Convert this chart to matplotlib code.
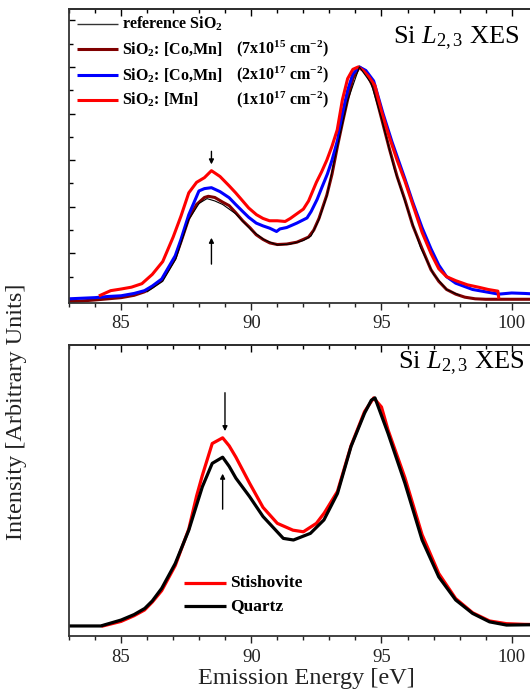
#!/usr/bin/python
# -*- coding: utf-8 -*-
"""
Si L2,3 XES spectra: implanted SiO2 layers (top) and stishovite vs quartz (bottom)
"""

#######################################################
# Environment setting
#######################################################
import numpy as np
import matplotlib
matplotlib.use('Agg')
import matplotlib.pyplot as plt
from matplotlib.ticker import MultipleLocator

plt.rcParams['font.family'] = ['Liberation Serif', 'DejaVu Serif']
plt.rcParams['mathtext.fontset'] = 'custom'
plt.rcParams['mathtext.rm'] = 'Liberation Serif'
plt.rcParams['mathtext.it'] = 'Liberation Serif:italic'
plt.rcParams['mathtext.bf'] = 'Liberation Serif:bold'


#######################################################
# Data (emission energy in eV, intensity normalised)
#######################################################

# top panel: SiO2 implanted with [Mn] (1x10^17)
e_mn = [84.2, 84.6, 85.0, 85.4, 85.8, 86.2, 86.6, 87.0, 87.3, 87.6, 87.9,
        88.2, 88.47, 88.8, 89.15, 89.4, 89.67, 89.9, 90.2, 90.45, 90.7, 91.0,
        91.3, 91.5, 91.75, 92.0, 92.2, 92.5, 92.7, 92.9, 93.1, 93.3, 93.5,
        93.7, 93.9, 94.1, 94.3, 94.5, 94.75, 95.0, 95.3, 95.6, 95.9, 96.2,
        96.56, 96.9, 97.2, 97.5, 97.85, 98.3, 98.76, 99.1, 99.47, 99.5]
i_mn = [0.02, 0.04, 0.047, 0.055, 0.07, 0.11, 0.165, 0.27, 0.36, 0.46, 0.505,
        0.525, 0.555, 0.53, 0.49, 0.46, 0.425, 0.395, 0.366, 0.35, 0.34, 0.34,
        0.337, 0.35, 0.37, 0.39, 0.425, 0.505, 0.55, 0.6, 0.66, 0.73, 0.86,
        0.95, 0.99, 1.0, 0.985, 0.96, 0.92, 0.81, 0.7, 0.6, 0.51, 0.41,
        0.29, 0.2, 0.134, 0.1, 0.083, 0.065, 0.054, 0.045, 0.038, 0.012]

# top panel: SiO2 implanted with [Co,Mn] (2x10^17)
e_comn_hi = [83.0, 84.0, 84.5, 85.0, 85.5, 85.9, 86.2, 86.56, 87.08, 87.3, 87.6,
             87.99, 88.2, 88.47, 88.8, 89.15, 89.4, 89.67, 89.9, 90.19, 90.45,
             90.71, 90.97, 91.1, 91.36, 91.75, 92.14, 92.3, 92.53, 92.7, 92.92,
             93.1, 93.31, 93.5, 93.7, 93.9, 94.15, 94.4, 94.7, 95.06, 95.4,
             95.9, 96.2, 96.56, 96.9, 97.2, 97.5, 97.85, 98.5, 99.0, 99.5,
             100.0, 100.5, 101.0, 101.25]
i_comn_hi = [0.005, 0.01, 0.015, 0.018, 0.028, 0.04, 0.06, 0.09, 0.19, 0.26,
             0.366, 0.468, 0.478, 0.482, 0.465, 0.439, 0.41, 0.38, 0.355, 0.33,
             0.318, 0.308, 0.294, 0.305, 0.311, 0.33, 0.352, 0.38, 0.432, 0.48,
             0.54, 0.6, 0.685, 0.8, 0.9, 0.97, 1.0, 0.985, 0.94, 0.8, 0.68,
             0.52, 0.42, 0.31, 0.22, 0.15, 0.1, 0.072, 0.045, 0.035, 0.025,
             0.03, 0.028, 0.025, 0.025]

# top panel: SiO2 implanted with [Co,Mn] (7x10^15)
e_comn_lo = [83.0, 84.0, 85.0, 85.5, 85.9, 86.2, 86.56, 87.08, 87.3, 87.6, 87.9,
             88.2, 88.35, 88.6, 88.9, 89.15, 89.4, 89.67, 89.95, 90.19, 90.45,
             90.71, 91.0, 91.36, 91.75, 92.0, 92.2, 92.4, 92.6, 92.9, 93.1,
             93.31, 93.5, 93.7, 93.9, 94.15, 94.4, 94.7, 95.0, 95.3, 95.6,
             95.9, 96.2, 96.56, 96.9, 97.2, 97.5, 97.85, 98.2, 98.6, 99.0,
             100.0, 101.25]
i_comn_lo = [-0.008, 0.0, 0.01, 0.02, 0.035, 0.055, 0.085, 0.18, 0.25, 0.35,
             0.41, 0.44, 0.445, 0.44, 0.42, 0.405, 0.375, 0.34, 0.31, 0.28,
             0.26, 0.245, 0.238, 0.24, 0.248, 0.26, 0.27, 0.3, 0.35, 0.45,
             0.54, 0.66, 0.76, 0.86, 0.95, 1.0, 0.98, 0.91, 0.78, 0.65, 0.53,
             0.43, 0.32, 0.22, 0.13, 0.08, 0.045, 0.025, 0.012, 0.005, 0.003,
             0.003, 0.003]

# top panel: reference SiO2 (thin line, mostly hidden)
e_ref = [86.0, 86.6, 87.1, 87.6, 88.0, 88.3, 88.6, 88.9, 89.4, 90.0, 90.5,
         91.0, 91.5, 92.0, 92.3, 92.6, 92.9, 93.3, 93.7, 94.15, 94.6, 95.0,
         95.5, 96.0, 96.5, 97.0, 97.5, 98.0]
i_ref = [0.035, 0.08, 0.175, 0.345, 0.415, 0.435, 0.425, 0.41, 0.37, 0.3,
         0.258, 0.236, 0.24, 0.255, 0.275, 0.345, 0.445, 0.655, 0.855, 1.0,
         0.93, 0.78, 0.56, 0.39, 0.225, 0.11, 0.045, 0.02]

# bottom panel: Stishovite
e_stish = [84.3, 85.0, 85.5, 85.9, 86.2, 86.56, 87.08, 87.6, 87.9, 88.12, 88.5,
           88.9, 89.15, 89.41, 89.93, 90.45, 91.0, 91.6, 92.0, 92.5, 92.8,
           93.31, 93.83, 94.35, 94.7, 95.0, 95.25, 95.9, 96.56, 97.2, 97.85,
           98.5, 99.15, 99.8, 100.5, 101.25]
i_stish = [0.0, 0.02, 0.045, 0.07, 0.105, 0.155, 0.265, 0.425, 0.57, 0.66, 0.80,
           0.825, 0.79, 0.74, 0.627, 0.52, 0.45, 0.42, 0.413, 0.45, 0.495,
           0.59, 0.79, 0.94, 1.0, 0.96, 0.86, 0.65, 0.40, 0.23, 0.12,
           0.058, 0.022, 0.01, 0.007, 0.006]

# bottom panel: Quartz
e_quartz = [83.0, 84.22, 85.0, 85.5, 85.91, 86.2, 86.56, 87.08, 87.6, 87.9,
            88.12, 88.5, 88.9, 89.15, 89.41, 89.93, 90.45, 91.23, 91.62, 92.27,
            92.79, 93.31, 93.83, 94.35, 94.61, 94.75, 95.25, 95.9, 96.56, 97.2,
            97.85, 98.5, 99.15, 99.8, 101.25]
i_quartz = [0.0, 0.0, 0.026, 0.05, 0.077, 0.11, 0.165, 0.274, 0.42, 0.53,
            0.61, 0.713, 0.74, 0.7, 0.648, 0.568, 0.48, 0.384, 0.377, 0.406,
            0.465, 0.581, 0.787, 0.933, 0.99, 1.0, 0.845, 0.626, 0.377, 0.215,
            0.114, 0.055, 0.018, 0.004, 0.006]

legend_top = ['reference SiO$_\\mathbf{2}$',
              'SiO$_\\mathbf{2}$: [Co,Mn]',
              'SiO$_\\mathbf{2}$: [Co,Mn]',
              'SiO$_\\mathbf{2}$: [Mn]']
dose_top = ['', '(7x10$^\\mathbf{15}$ cm$^\\mathbf{-2}$)',
            '(2x10$^\\mathbf{17}$ cm$^\\mathbf{-2}$)',
            '(1x10$^\\mathbf{17}$ cm$^\\mathbf{-2}$)']
legend_bottom = ['Stishovite', 'Quartz']

xticks = [85, 90, 95, 100]
panel_title = 'Si $\\mathit{L}_{2,3}$ XES'


#######################################################
# Figure
#######################################################
W, H = 530.0, 698.0
fig = plt.figure(figsize=(W / 100.0, H / 100.0), dpi=100)

px_per_ev = 26.04
x_lo, x_hi = 83.0, 101.25
ax_px = (x_hi - x_lo) * px_per_ev
ax_w = ax_px / W
left = 69 / W

ax1 = fig.add_axes([left, 1 - 303 / H, ax_w, 294 / H])
ax2 = fig.add_axes([left, 1 - 636 / H, ax_w, 291 / H])


def style_axis(ax, yticks_on):
    ax.set_xlim(x_lo, x_hi)
    ax.xaxis.set_major_locator(MultipleLocator(5))
    ax.xaxis.set_minor_locator(MultipleLocator(1))
    ax.set_xticks(xticks)
    ax.set_xticklabels([str(t) for t in xticks], fontsize=13.5)
    ax.tick_params(axis='x', which='both', direction='out', top=False,
                   pad=4, colors='#222222')
    ax.tick_params(axis='x', which='major', length=5, width=1)
    ax.tick_params(axis='x', which='minor', length=3, width=1)
    # ticks on the top spine point inwards
    sec = ax.secondary_xaxis('top')
    sec.xaxis.set_major_locator(MultipleLocator(5))
    sec.xaxis.set_minor_locator(MultipleLocator(1))
    sec.tick_params(axis='x', which='both', direction='in', labeltop=False)
    sec.tick_params(axis='x', which='major', length=5, width=1)
    sec.tick_params(axis='x', which='minor', length=3, width=1)
    if yticks_on:
        ax.yaxis.set_major_locator(MultipleLocator(0.2))
        ax.yaxis.set_minor_locator(MultipleLocator(0.1))
        ax.tick_params(axis='y', which='both', direction='in', labelleft=False)
        ax.tick_params(axis='y', which='major', length=4, width=1)
        ax.tick_params(axis='y', which='minor', length=3, width=1)
    else:
        ax.set_yticks([])
    for s in ax.spines.values():
        s.set_linewidth(1.3)
        s.set_color('#333333')
    sec.spines['top'].set_linewidth(1.3)


def axfrac(px):
    # horizontal pixel position -> axes fraction
    return (px - 69) / ax_px


#######################################################
# Top panel
#######################################################
ax1.plot(e_comn_lo, i_comn_lo, color='#800000', lw=2.2)
ax1.plot(e_comn_hi, i_comn_hi, color='#0000ff', lw=2.2)
ax1.plot(e_mn, i_mn, color='#ff0000', lw=2.2)
ax1.plot(e_ref, i_ref, color='black', lw=0.8)
ax1.set_ylim(-0.013, 1.249)
style_axis(ax1, True)

top_colors = ['#333333', '#800000', '#0000ff', '#ff0000']
top_widths = [1.0, 2.2, 2.2, 2.2]
leg_y = [0.949, 0.864, 0.776, 0.690]
for k in range(len(legend_top)):
    ax1.plot([axfrac(77), axfrac(118)], [leg_y[k], leg_y[k]],
             transform=ax1.transAxes,
             color=top_colors[k], lw=top_widths[k], solid_capstyle='butt')
    ax1.text(axfrac(122), leg_y[k], legend_top[k], transform=ax1.transAxes,
             fontsize=11.5, fontweight='bold', va='center', ha='left')
    if dose_top[k]:
        ax1.text(axfrac(236), leg_y[k], dose_top[k], transform=ax1.transAxes,
                 fontsize=11.5, fontweight='bold', va='center', ha='left')

ax1.text(axfrac(393), 0.884, panel_title, transform=ax1.transAxes,
         fontsize=19, va='baseline', ha='left')

# arrows marking the first peak
ax1.annotate('', xy=(88.47, 0.57), xytext=(88.47, 0.65),
             arrowprops=dict(arrowstyle='-|>', color='black', lw=1,
                             mutation_scale=7))
ax1.annotate('', xy=(88.47, 0.279), xytext=(88.47, 0.142),
             arrowprops=dict(arrowstyle='-|>', color='black', lw=1,
                             mutation_scale=7))


#######################################################
# Bottom panel
#######################################################
ax2.plot(e_stish, i_stish, color='#ff0000', lw=2.3)
ax2.plot(e_quartz, i_quartz, color='black', lw=2.3)
ax2.set_ylim(-0.044, 1.232)
style_axis(ax2, False)

bot_colors = ['#ff0000', 'black']
leg_y2 = [0.182, 0.103]
for k in range(len(legend_bottom)):
    ax2.plot([axfrac(184), axfrac(226)], [leg_y2[k], leg_y2[k]],
             transform=ax2.transAxes,
             color=bot_colors[k], lw=2.3, solid_capstyle='butt')
    ax2.text(axfrac(230), leg_y2[k], legend_bottom[k], transform=ax2.transAxes,
             fontsize=12.5, fontweight='bold', va='center', ha='left')

ax2.text(axfrac(398), 0.918, panel_title, transform=ax2.transAxes,
         fontsize=19, va='baseline', ha='left')

ax2.annotate('', xy=(88.99, 0.842), xytext=(88.99, 1.035),
             arrowprops=dict(arrowstyle='-|>', color='black', lw=1,
                             mutation_scale=7))
ax2.annotate('', xy=(88.9, 0.68), xytext=(88.9, 0.50),
             arrowprops=dict(arrowstyle='-|>', color='black', lw=1,
                             mutation_scale=7))

ax2.set_xlabel('Emission Energy [eV]', fontsize=17.5, color='#222222',
               labelpad=2)

fig.text(17 / W, 1 - 412 / H, 'Intensity [Arbitrary Units]', rotation=90,
         fontsize=17.5, color='#222222', ha='center', va='center')

plt.savefig('out.png', dpi=100)
plt.close()
